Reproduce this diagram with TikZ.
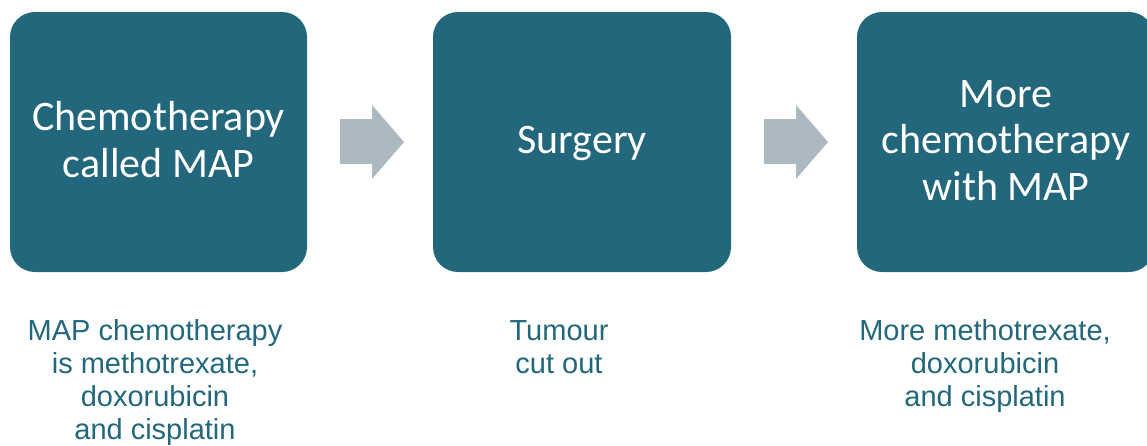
\documentclass[tikz,border=0pt]{standalone}
\usepackage{fontspec}
\setmainfont{Liberation Sans}
\newfontfamily\boxfont{Carlito}
\definecolor{boxteal}{HTML}{22677C}
\definecolor{arrowgray}{HTML}{ADB9C1}
\definecolor{noteteal}{HTML}{22677C}
\begin{document}
\begin{tikzpicture}[x=1pt,y=-1pt,
  stepbox/.style={fill=boxteal,draw=none,rounded corners=25pt},
  boxtext/.style={text=white,align=center,anchor=base,inner sep=0pt,
    font=\boxfont\fontsize{42}{46.5}\selectfont},
  notetext/.style={text=noteteal,align=center,anchor=base,inner sep=0pt,
    font=\fontsize{29}{33}\selectfont},
  fatarrow/.style={fill=arrowgray,draw=none}]
\useasboundingbox (0,0) rectangle (1147,445);
\begin{scope}
\clip (0,0) rectangle (1147,445);
\fill[stepbox] (10,12) rectangle (307,272);
\fill[stepbox] (433,12) rectangle (731,272);
\fill[stepbox] (857,12) rectangle (1154,272);
\end{scope}
% anchor=base of a multi-line node is the baseline of its last line
\node[boxtext] (t1) at (158.5,177) {Chemotherapy\\called MAP};
\node[boxtext] (t2) at (582,153) {Surgery};
\node[boxtext] (t3) at (1006,200) {More\\chemotherapy\\with MAP};
\fill[fatarrow] (340,119) -- (372,119) -- (372,105) -- (404,142) -- (372,179) -- (372,164) -- (340,164) -- cycle;
\fill[fatarrow] (764,119) -- (796,119) -- (796,105) -- (828,142) -- (796,179) -- (796,164) -- (764,164) -- cycle;
\node[notetext] (n1) at (155,439) {MAP chemotherapy\\is methotrexate,\\doxorubicin\\and cisplatin};
\node[notetext] (n2) at (559,373) {Tumour\\cut out};
\node[notetext] (n3) at (985,406) {More methotrexate,\\doxorubicin\\and cisplatin};
\end{tikzpicture}
\end{document}
